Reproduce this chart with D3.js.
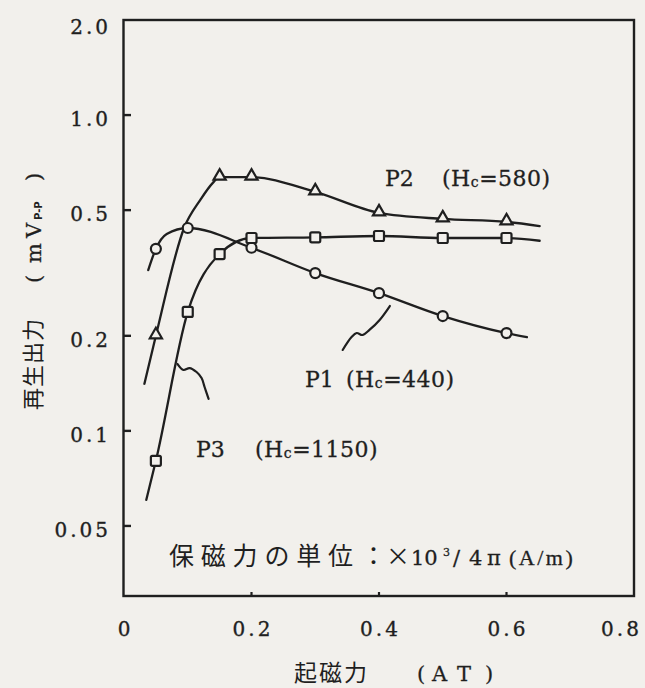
<!DOCTYPE html>
<html>
<head>
<meta charset="utf-8">
<script src="https://cdn.jsdelivr.net/npm/d3@7"></script>
<style>
  html, body { margin: 0; padding: 0; background: #f2f0ec; }
  svg { display: block; }
</style>
</head>
<body>
<svg id="chart" width="645" height="688"></svg>
<script>
// Axis ticks
const xTicks = [0, 0.2, 0.4, 0.6, 0.8];
const xTickLabels = ["0", "0.2", "0.4", "0.6", "0.8"];
const yTicks = [2.0, 1.0, 0.5, 0.2, 0.1, 0.05];
const yTickLabels = ["2.0", "1.0", "0.5", "0.2", "0.1", "0.05"];

// Measured output (mV p-p) against magnetomotive force (AT)
const p1X = [0.05, 0.1, 0.2, 0.3, 0.4, 0.5, 0.6];
const p1Y = [0.377, 0.439, 0.38, 0.316, 0.273, 0.231, 0.204];
const p2X = [0.05, 0.15, 0.2, 0.3, 0.4, 0.5, 0.6];
const p2Y = [0.2, 0.636, 0.636, 0.571, 0.49, 0.469, 0.459];
const p3X = [0.05, 0.1, 0.15, 0.2, 0.3, 0.4, 0.5, 0.6];
const p3Y = [0.0804, 0.238, 0.363, 0.408, 0.41, 0.414, 0.408, 0.408];

// Smooth curves drawn through each sample set
const p1FitX = [0.038, 0.05, 0.067, 0.1, 0.2, 0.3, 0.4, 0.5, 0.6, 0.632];
const p1FitY = [0.323, 0.377, 0.42, 0.439, 0.38, 0.316, 0.273, 0.231, 0.204, 0.198];
const p2FitX = [0.032, 0.05, 0.095, 0.12, 0.139, 0.15, 0.2, 0.3, 0.4, 0.5, 0.6, 0.652];
const p2FitY = [0.141, 0.2, 0.443, 0.54, 0.609, 0.636, 0.636, 0.571, 0.49, 0.469, 0.459, 0.445];
const p3FitX = [0.035, 0.05, 0.1, 0.15, 0.2, 0.3, 0.4, 0.5, 0.6, 0.652];
const p3FitY = [0.0605, 0.0804, 0.238, 0.363, 0.408, 0.41, 0.414, 0.408, 0.408, 0.40];

// Wavy leader lines tying labels to curves
const p1LeaderX = [0.417, 0.401, 0.385, 0.374, 0.365, 0.357, 0.343];
const p1LeaderY = [0.2485, 0.2245, 0.2087, 0.2012, 0.2041, 0.1983, 0.1804];
const p3LeaderX = [0.084, 0.0934, 0.1028, 0.1138, 0.1217, 0.1264, 0.1327];
const p3LeaderY = [0.1628, 0.1559, 0.1581, 0.1536, 0.147, 0.1377, 0.1262];

const ink = "#1f1f1f";
const bg = "#f2f0ec";
const serif = "'DejaVu Serif', 'Liberation Serif', serif";
const cjk = "'Noto Sans CJK JP', sans-serif";

const svg = d3.select("#chart");

const x = d3.scaleLinear().domain([0, 0.8]).range([124, 634]);
const y = d3.scaleLog().domain([0.03, 2.0]).range([596, 20]);

const zip = (a, b) => a.map((v, i) => [v, b[i]]);

// Slightly heavier strokes on thin serif glyphs
function inked(sel, w = 0.35) {
  return sel.attr("fill", ink).attr("stroke", ink).attr("stroke-width", w);
}

// Frame
const [x0, x1] = x.range();
const [y0, y1] = y.range();
svg.append("rect")
  .attr("x", x0 - 0.5).attr("y", y1)
  .attr("width", x1 - x0 + 0.5).attr("height", y0 - y1)
  .attr("fill", "none").attr("stroke", ink).attr("stroke-width", 2.4);

// Y ticks (inward) and labels
const yTickG = svg.append("g");
yTicks.forEach((t, i) => {
  if (i > 0) {
    yTickG.append("line")
      .attr("x1", x0).attr("x2", x0 + 7)
      .attr("y1", y(t)).attr("y2", y(t))
      .attr("stroke", ink).attr("stroke-width", 2.4);
  }
  inked(yTickG.append("text"))
    .attr("x", 111).attr("y", y(t) + (i === 0 ? 14 : 11))
    .attr("text-anchor", "end")
    .attr("font-family", serif).attr("font-size", 20)
    .attr("letter-spacing", 3)
    .text(yTickLabels[i]);
});

// X ticks (inward) and labels
const xTickG = svg.append("g");
xTicks.forEach((t, i) => {
  if (t > 0 && t < 0.8) {
    xTickG.append("line")
      .attr("x1", x(t)).attr("x2", x(t))
      .attr("y1", y0).attr("y2", y0 - 4)
      .attr("stroke", ink).attr("stroke-width", 2.2);
  }
  inked(xTickG.append("text"))
    .attr("x", Math.min(x(t), 620) + 1.5).attr("y", 636)
    .attr("text-anchor", "middle")
    .attr("font-family", serif).attr("font-size", 20)
    .attr("letter-spacing", 3)
    .text(xTickLabels[i]);
});

// Curves
const line = d3.line()
  .x(d => x(d[0])).y(d => y(d[1]))
  .curve(d3.curveMonotoneX);
const leader = d3.line()
  .x(d => x(d[0])).y(d => y(d[1]))
  .curve(d3.curveCatmullRom.alpha(0.5));

const curves = [zip(p1FitX, p1FitY), zip(p2FitX, p2FitY), zip(p3FitX, p3FitY)];
svg.append("g").selectAll("path").data(curves).join("path")
  .attr("d", line)
  .attr("fill", "none").attr("stroke", ink).attr("stroke-width", 2.3)
  .attr("stroke-linejoin", "round").attr("stroke-linecap", "round");

svg.append("g").selectAll("path")
  .data([zip(p1LeaderX, p1LeaderY), zip(p3LeaderX, p3LeaderY)]).join("path")
  .attr("d", leader)
  .attr("fill", "none").attr("stroke", ink).attr("stroke-width", 2.2)
  .attr("stroke-linejoin", "round").attr("stroke-linecap", "round");

// Markers: circles (P1), triangles (P2), squares (P3)
const markG = svg.append("g")
  .attr("fill", bg).attr("stroke", ink).attr("stroke-width", 2.2);

markG.selectAll("circle").data(zip(p1X, p1Y)).join("circle")
  .attr("cx", d => x(d[0])).attr("cy", d => y(d[1])).attr("r", 5);

const tri = d3.symbol().type(d3.symbolTriangle).size(64);
markG.selectAll("path.tri").data(zip(p2X, p2Y)).join("path")
  .attr("class", "tri")
  .attr("transform", d => `translate(${x(d[0])},${y(d[1]) - 1})`)
  .attr("d", tri);

markG.selectAll("rect").data(zip(p3X, p3Y)).join("rect")
  .attr("x", d => x(d[0]) - 5).attr("y", d => y(d[1]) - 5)
  .attr("width", 10).attr("height", 10).attr("rx", 1.5);

// Series labels
function seriesLabel(px, py, name, hcx, hc) {
  const g = inked(svg.append("g"), 0.3)
    .attr("font-family", serif).attr("font-size", 22);
  g.append("text").attr("x", px).attr("y", py).text(name);
  const t = g.append("text").attr("x", hcx).attr("y", py).attr("letter-spacing", 0.5);
  t.append("tspan").text("(H");
  t.append("tspan").attr("font-size", 14).attr("dy", 1).text("c");
  t.append("tspan").attr("dy", -1).text("=" + hc + ")");
}
seriesLabel(385, 186, "P2", 442, "580");
seriesLabel(305, 387, "P1", 346, "440");
seriesLabel(196, 457, "P3", 255, "1150");

// Unit note
const note = svg.append("text").attr("y", 565).attr("fill", ink);
note.append("tspan").attr("x", 169)
  .attr("font-family", cjk).attr("font-size", 25).attr("letter-spacing", 6.8)
  .text("保磁力の単位");
note.append("tspan").attr("x", 361)
  .attr("font-family", cjk).attr("font-size", 25).text("：");
note.append("tspan").attr("x", 386).attr("font-family", cjk).attr("font-size", 24).text("×");
const noteSerif = [
  { t: "10", x: 411, dy: 0, fs: 21 },
  { t: "3", x: 443, dy: -9, fs: 11 },
  { t: "/", x: 453, dy: 9, fs: 21 },
  { t: "4", x: 469, dy: 0, fs: 21 },
  { t: "π", x: 487, dy: 0, fs: 21 }
];
noteSerif.forEach(s => {
  inked(note.append("tspan"), 0.3).attr("x", s.x).attr("dy", s.dy)
    .attr("font-family", serif).attr("font-size", s.fs).text(s.t);
});
inked(note.append("tspan"), 0.3).attr("x", 509)
  .attr("font-family", "'Liberation Serif', serif").attr("font-size", 22)
  .attr("letter-spacing", 2.5).text("(A/m)");

// Y axis title (rotated)
const yt = svg.append("g").attr("transform", "translate(41,410) rotate(-90)")
  .append("text").attr("fill", ink);
yt.append("tspan").attr("x", 0).attr("font-family", cjk).attr("font-size", 22)
  .attr("letter-spacing", 1).text("再生出力");
inked(yt.append("tspan"), 0.3).attr("x", 127).attr("font-family", serif).attr("font-size", 21).text("(");
inked(yt.append("tspan"), 0.3).attr("x", 147).attr("font-family", serif).attr("font-size", 21).text("m");
inked(yt.append("tspan"), 0.3).attr("x", 172).attr("font-family", serif).attr("font-size", 21).text("V");
yt.append("tspan").attr("x", 190).attr("dy", 1).attr("font-family", "'DejaVu Sans', sans-serif")
  .attr("font-size", 10).attr("font-weight", "bold").text("P-P");
inked(yt.append("tspan"), 0.3).attr("x", 229).attr("dy", -1).attr("font-family", serif).attr("font-size", 21).text(")");

// X axis title
const xt = svg.append("text").attr("y", 681).attr("fill", ink);
xt.append("tspan").attr("x", 294).attr("font-family", cjk).attr("font-size", 23)
  .attr("letter-spacing", 2).text("起磁力");
[["(", 417], ["A", 432], ["T", 457], [")", 485]].forEach(([c, px]) => {
  inked(xt.append("tspan"), 0.3).attr("x", px)
    .attr("font-family", serif).attr("font-size", 21).text(c);
});
</script>
</body>
</html>
